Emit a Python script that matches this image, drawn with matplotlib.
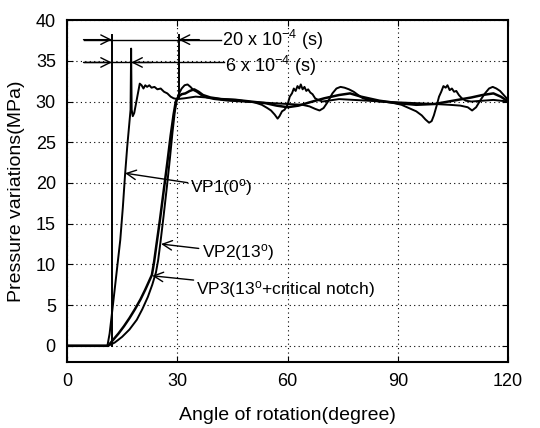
import matplotlib
matplotlib.use("Agg")
import matplotlib.pyplot as plt

plt.rcParams['font.family'] = ['Liberation Sans', 'DejaVu Sans']
plt.rcParams['mathtext.fontset'] = 'custom'
plt.rcParams['mathtext.rm'] = 'Liberation Sans'
plt.rcParams['mathtext.it'] = 'Liberation Sans'

# VP1 (0 deg): fast rise, pressure spike, rough oscillation
vp1_x = [0, 11.0, 11.6, 12.5, 13.5, 14.5, 15.2, 15.8, 16.4, 17.0, 17.3, 17.45, 17.6,
         17.9, 18.3, 18.8, 19.3, 19.8, 20.3, 20.8, 21.3, 21.8, 22.4, 23.0, 23.8, 24.6,
         25.5, 26.4, 27.3, 28.2, 29.0, 30.0, 32, 35, 38, 42, 46, 49, 51, 53, 54.5, 55.5,
         56.5, 57.3, 57.8, 58.5, 59.2, 60.0, 60.6, 61.2, 61.7, 62.2, 62.7, 63.2, 63.6,
         64.1, 64.6, 65.1, 65.6, 66.2, 66.8, 67.5, 68.3, 69.5, 71, 74, 78, 82, 86, 89,
         91, 93, 95, 96.5, 97.5, 98.5, 99.2, 99.8, 100.5, 101.2, 101.8, 102.4, 103.0,
         103.5, 104.1, 104.7, 105.3, 105.9, 106.6, 107.4, 108.5, 110, 113, 116, 118, 120]
vp1_y = [0, 0, 1.5, 5, 9, 13, 17, 21, 24.5, 27.5, 29, 36.5, 29,
         28.2, 28.6, 29.8, 31, 32.2, 32.0, 31.6, 32.0, 31.8, 32.0, 31.7, 31.8, 31.5,
         31.6, 31.2, 31.0, 30.6, 30.4, 30.3, 30.4, 30.6, 30.5, 30.3, 30.2, 30.0, 29.9, 29.6, 29.2, 28.9,
         28.4, 27.9, 28.2, 28.8, 29.0, 29.6, 30.6, 31.0, 31.6, 31.3, 31.9, 31.6, 32.1,
         31.5, 31.8, 31.3, 31.5, 31.1, 30.9, 30.4, 30.2, 30.0, 30.1, 30.3, 30.2, 30.1, 30.0, 29.8,
         29.6, 29.2, 28.8, 28.3, 27.8, 27.4, 27.6, 28.3, 29.4, 30.6, 31.2, 31.9, 31.7,
         32.0, 31.4, 31.6, 31.2, 31.3, 30.8, 30.4, 30.1, 30.0, 30.1, 30.2, 30.1, 30.0]

# VP2 (13 deg)
vp2_x = [0, 11.2, 13, 15, 17, 19, 20.5, 22, 23.2, 24.2, 24.8, 25.4, 26.3, 27.2, 28.0,
         28.7, 29.3, 29.8, 30.4, 31.2, 32.0, 32.8, 33.6, 34.4, 35.3, 36.5, 38, 40, 44,
         48, 52, 56, 60, 64, 66, 67.5, 68.7, 69.8, 71.0, 72.2, 73.3, 74.4, 75.5, 76.7,
         78.0, 79.2, 80.5, 82, 85, 90, 95, 100, 104, 107, 109, 110.2, 111.3, 112.5,
         113.7, 114.8, 115.8, 116.8, 117.8, 118.8, 120]
vp2_y = [0, 0, 0.4, 1.1, 2.0, 3.2, 4.5, 6.0, 7.5, 9.0, 10.5, 12.6, 16, 19.6, 23,
         26.2, 28.6, 30.0, 30.9, 31.6, 32.0, 32.1, 31.8, 31.4, 31.2, 30.8, 30.5, 30.3, 30.1,
         30.0, 29.9, 29.8, 29.7, 29.6, 29.4, 29.1, 28.9, 29.2, 30.0, 31.0, 31.6, 31.8, 31.7, 31.5,
         31.2, 30.8, 30.4, 30.2, 30.0, 29.9, 29.8, 29.7, 29.6, 29.5, 29.3, 28.9, 29.3, 30.2,
         31.0, 31.6, 31.8, 31.6, 31.3, 30.8, 30.2]

# VP3 (13 deg + critical notch): smooth
vp3_x = [0, 11.2, 12.5, 14, 15.5, 17, 18.5, 20, 21.3, 22.3, 23.1, 23.7, 24.4, 25.3,
         26.3, 27.3, 28.2, 29.0, 29.6, 30.3, 31.2, 32.2, 33.4, 34.6, 35.8, 37, 39, 42,
         46, 50, 54, 57, 60, 63, 66, 70, 74, 77, 80, 85, 90, 95, 100, 105, 110, 113,
         116, 118, 120]
vp3_y = [0, 0, 0.7, 1.5, 2.4, 3.4, 4.5, 5.7, 6.9, 7.9, 8.7, 10.3, 12.6, 15.5,
         19, 22.5, 25.8, 28.4, 30.0, 30.6, 30.9, 31.0, 31.3, 31.5, 31.2, 30.8, 30.5, 30.3,
         30.2, 30.0, 29.8, 29.5, 29.3, 29.5, 29.9, 30.4, 30.8, 31.0, 30.6, 30.1, 29.8, 29.6,
         29.7, 30.1, 30.5, 30.8, 31.0, 30.6, 30.0]

x_ticks = [0, 30, 60, 90, 120]
y_ticks = [0, 5, 10, 15, 20, 25, 30, 35, 40]

fig = plt.figure(figsize=(5.4, 4.28), dpi=100)
ax = fig.add_axes([0.124, 0.154, 0.817, 0.799])

ax.plot(vp1_x, vp1_y, color='black', lw=1.4)
ax.plot(vp2_x, vp2_y, color='black', lw=1.4)
ax.plot(vp3_x, vp3_y, color='black', lw=1.8)

# time-interval markers
ax.plot([12.2, 12.2], [0, 38.2], color='black', lw=1.4)
ax.plot([30.4, 30.4], [30.4, 38.2], color='black', lw=1.4)
ax.plot([4.5, 42.0], [37.6, 37.6], color='black', lw=1.0)
ax.plot([4.5, 42.8], [34.8, 34.8], color='black', lw=1.0)
arr = dict(arrowstyle='->', color='black', lw=1.0, shrinkA=0, shrinkB=0,
           mutation_scale=17)
ax.annotate('', xy=(12.2, 37.6), xytext=(4.5, 37.6), arrowprops=arr)
ax.annotate('', xy=(30.4, 37.6), xytext=(36.0, 37.6), arrowprops=arr)
ax.annotate('', xy=(12.2, 34.8), xytext=(4.5, 34.8), arrowprops=arr)
ax.annotate('', xy=(17.5, 34.8), xytext=(23.0, 34.8), arrowprops=arr)
ax.text(42.3, 37.6, r'20 x 10$^{-4}$ (s)', fontsize=13, va='center', ha='left')
ax.text(43.0, 34.4, r'6 x 10$^{-4}$ (s)', fontsize=13, va='center', ha='left')

# curve labels
ax.annotate(r'VP1(0$^\mathrm{o}$)', xy=(15.8, 21.2), xytext=(33.6, 19.4),
            fontsize=12.5, va='center', ha='left', arrowprops=arr)
ax.annotate(r'VP2(13$^\mathrm{o}$)', xy=(25.6, 12.5), xytext=(36.6, 11.4),
            fontsize=12.5, va='center', ha='left', arrowprops=arr)
ax.annotate(r'VP3(13$^\mathrm{o}$+critical notch)', xy=(23.2, 8.6), xytext=(35.2, 6.9),
            fontsize=12.5, va='center', ha='left', arrowprops=arr)

ax.set_xlim(0, 120)
ax.set_ylim(-2, 40)
ax.set_xticks(x_ticks)
ax.set_yticks(y_ticks)
ax.tick_params(direction='in', length=4, labelsize=13, top=True, right=True, pad=8)
ax.grid(True, color='black', linestyle=(0, (1, 3)), lw=0.8)
for s in ax.spines.values():
    s.set_linewidth(1.5)

ax.set_xlabel('Angle of rotation(degree)', fontsize=14, labelpad=12)
ax.set_ylabel('Pressure variations(MPa)', fontsize=14, labelpad=8)

fig.savefig('out.png', dpi=100)
